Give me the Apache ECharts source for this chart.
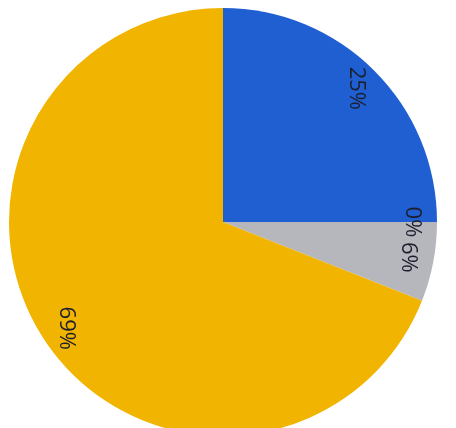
<!DOCTYPE html>
<html>
<head>
<meta charset="utf-8">
<style>
  html, body { margin: 0; padding: 0; background: #ffffff; }
  #chart { width: 456px; height: 428px; }
</style>
<script src="https://cdn.jsdelivr.net/npm/echarts@6/dist/echarts.min.js"></script>
</head>
<body>
<div id="chart"></div>
<script>
// Slices in clockwise order from 12 o'clock
const categories = ['Blue', 'Zero', 'Gray', 'Yellow'];
const values = [25, 0, 6, 69];
const colors = ['#1f5fd2', '#9a9aa6', '#b6b6bd', '#f1b400'];

const chart = echarts.init(document.getElementById('chart'), null, { renderer: 'canvas' });

const pieData = categories.map((c, i) => ({ name: c, value: values[i], itemStyle: { color: colors[i] } }));
const labelData = categories.map((c, i) => ({ name: c, value: values[i] }));

chart.setOption({
  animation: false,
  backgroundColor: '#ffffff',
  series: [
    {
      type: 'pie',
      center: [223, 222],
      radius: [0, 214],
      startAngle: 90,
      clockwise: true,
      silent: true,
      label: { show: false },
      labelLine: { show: false },
      itemStyle: { borderWidth: 0 },
      data: pieData
    },
    {
      type: 'pie',
      center: [223, 222],
      radius: [158, 214],
      startAngle: 90,
      clockwise: true,
      silent: true,
      itemStyle: { color: 'rgba(0,0,0,0)', borderWidth: 0 },
      label: {
        show: true,
        position: 'inside',
        rotate: -90,
        formatter: '{c}%',
        color: '#1c1f2e',
        fontSize: 22,
        fontFamily: 'Open Sans, DejaVu Sans, sans-serif'
      },
      labelLine: { show: false },
      data: labelData
    }
  ]
});
</script>
</body>
</html>
